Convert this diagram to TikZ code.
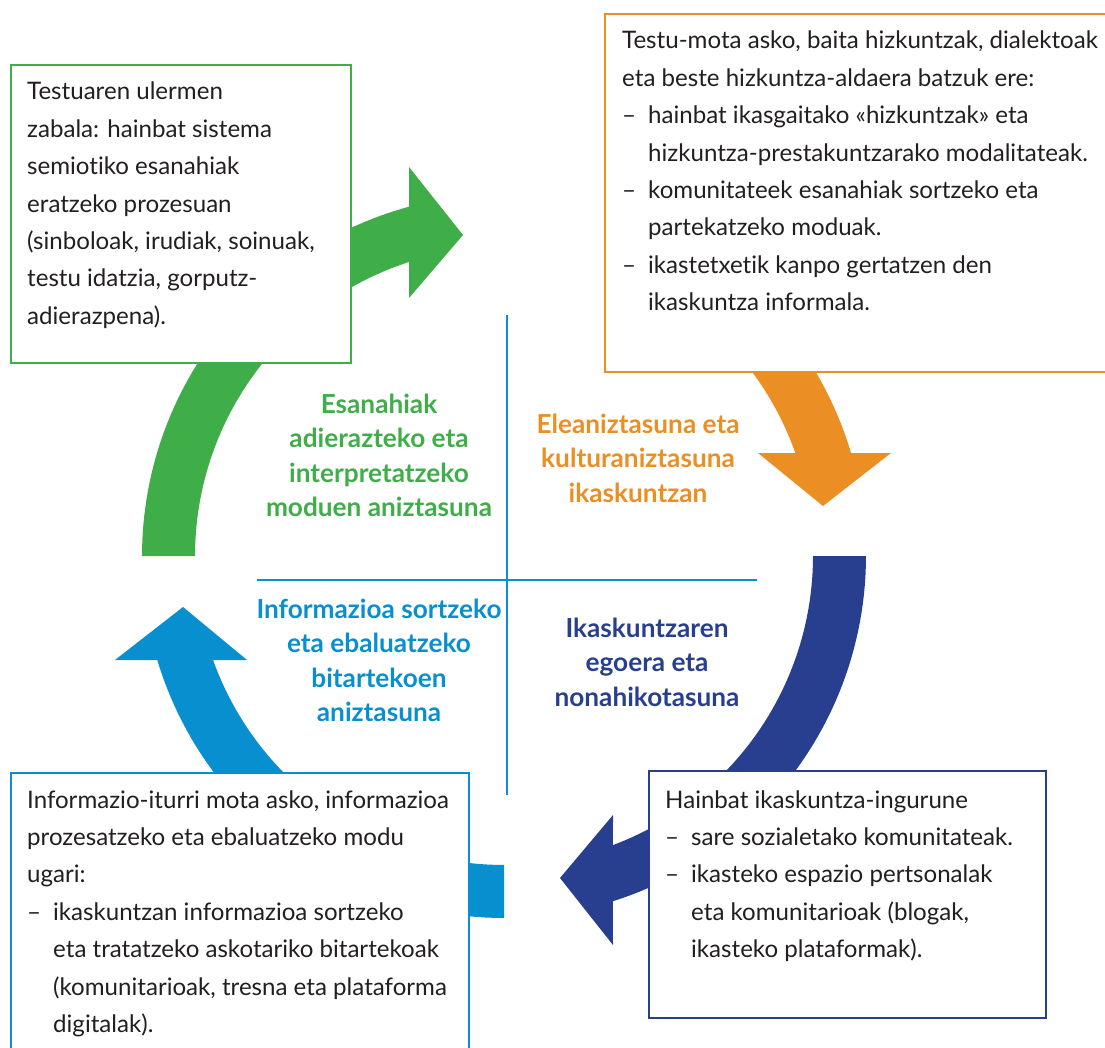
\documentclass[tikz,border=0pt]{standalone}
\usepackage{fontspec}
\setmainfont{Lato}[Ligatures=NoCommon]
\definecolor{gc}{HTML}{3FAE49}
\definecolor{oc}{HTML}{EB8E23}
\definecolor{nc}{HTML}{273F8E}
\definecolor{bc}{HTML}{088FCF}
\definecolor{tc}{HTML}{231F20}
\newcommand\Lft[2]{\vtop{\baselineskip=#1\lineskiplimit=-\maxdimen\halign{##\hfil\cr#2\crcr}}}
\newcommand\Ctr[2]{\vtop{\baselineskip=#1\lineskiplimit=-\maxdimen\halign{\hfil##\hfil\cr#2\crcr}}}
\newcommand\itm{\hbox to 26pt{–\hfil}}
\tikzset{
  boxst/.style={rectangle, fill=white, line width=2pt, inner sep=0pt, anchor=north west},
  boxtxt/.style={anchor=base west, inner sep=0pt, text=tc, font=\fontsize{24.1}{37.4}\selectfont},
  labtxt/.style={anchor=base, inner sep=0pt, font=\fontsize{26.2}{34.6}\selectfont\bfseries},
  crossline/.style={draw=bc, line width=2.5pt}
}
\begin{document}
\begin{tikzpicture}[x=1pt,y=-1pt]
\useasboundingbox (0,0) rectangle (1105,1048);
\fill[white] (0,0) rectangle (1105,1048);
% cross lines
\coordinate (vt) at (507,315);
\coordinate (vb) at (507,795);
\coordinate (hl) at (257,580);
\coordinate (hr) at (757,580);
\draw[crossline] (vt) -- (vb);
\draw[crossline] (hl) -- (hr);
% ring arrows (centre 504,556; radii 362 / 309)
\fill[gc] plot[domain=180:254.8, samples=50] ({504+362*cos(\x)},{556+362*sin(\x)})
  -- (409,167) -- (463,235) -- (409,298)
  -- plot[domain=252.1:180, samples=50] ({504+309*cos(\x)},{556+309*sin(\x)}) -- cycle;
\fill[oc] plot[domain=295:343.47, samples=50] ({504+362*cos(\x)},{556+362*sin(\x)})
  -- (891,453) -- (823,506) -- (758,453)
  -- plot[domain=340.53:295, samples=50] ({504+309*cos(\x)},{556+309*sin(\x)}) -- cycle;
\fill[nc] plot[domain=0:72.5, samples=50] ({504+362*cos(\x)},{556+362*sin(\x)})
  -- (613,945) -- (560,878) -- (613,815)
  -- plot[domain=69.35:0, samples=50] ({504+309*cos(\x)},{556+309*sin(\x)}) -- cycle;
\fill[bc] plot[domain=90:163.3, samples=50] ({504+362*cos(\x)},{556+362*sin(\x)})
  -- (115,660) -- (183,607) -- (247,660)
  -- plot[domain=160.33:90, samples=50] ({504+309*cos(\x)},{556+309*sin(\x)}) -- cycle;
% boxes
\node[boxst, draw=gc, minimum width=340pt, minimum height=298pt] (gbox) at (10,64) {};
\node[boxst, draw=oc, minimum width=510pt, minimum height=358pt] (obox) at (604,13) {};
\node[boxst, draw=bc, minimum width=458pt, minimum height=300pt] (bbox) at (10,772) {};
\node[boxst, draw=nc, minimum width=397pt, minimum height=247pt] (nbox) at (648,770) {};
% box texts
\node[boxtxt] (gtxt) at (27,100) {\Lft{37.4pt}{Testuaren ulermen\cr
zabala: hainbat sistema\cr
semiotiko esanahiak\cr
eratzeko prozesuan\cr
(sinboloak, irudiak, soinuak,\cr
testu idatzia, gorputz-\cr
adierazpena).}};
\node[boxtxt] (otxt) at (622,49) {\Lft{37.4pt}{Testu-mota asko, baita hizkuntzak, dialektoak\cr
eta beste hizkuntza-aldaera batzuk ere:\cr
\itm hainbat ikasgaitako «hizkuntzak» eta\cr
\hskip26pt hizkuntza-prestakuntzarako modalitateak.\cr
\itm komunitateek esanahiak sortzeko eta\cr
\hskip26pt partekatzeko moduak.\cr
\itm ikastetxetik kanpo gertatzen den\cr
\hskip26pt ikaskuntza informala.}};
\node[boxtxt] (btxt) at (27,808) {\Lft{37.4pt}{Informazio-iturri mota asko, informazioa\cr
prozesatzeko eta ebaluatzeko modu\cr
ugari:\cr
\itm ikaskuntzan informazioa sortzeko\cr
\hskip26pt eta tratatzeko askotariko bitartekoak\cr
\hskip26pt (komunitarioak, tresna eta plataforma\cr
\hskip26pt digitalak).}};
\node[boxtxt] (ntxt) at (665,808) {\Lft{37.4pt}{Hainbat ikaskuntza-ingurune\cr
\itm sare sozialetako komunitateak.\cr
\itm ikasteko espazio pertsonalak\cr
\hskip26pt eta komunitarioak (blogak,\cr
\hskip26pt ikasteko plataformak).}};
% centre labels
\node[labtxt, text=gc] (glab) at (379,413) {\Ctr{34.6pt}{Esanahiak\cr adierazteko eta\cr interpretatzeko\cr moduen aniztasuna}};
\node[labtxt, text=oc] (olab) at (638,433) {\Ctr{34.6pt}{Eleaniztasuna eta\cr kulturaniztasuna\cr ikaskuntzan}};
\node[labtxt, text=nc] (nlab) at (647,637) {\Ctr{34.6pt}{Ikaskuntzaren\cr egoera eta\cr nonahikotasuna}};
\node[labtxt, text=bc] (blab) at (379,618) {\Ctr{34.6pt}{Informazioa sortzeko\cr eta ebaluatzeko\cr bitartekoen\cr aniztasuna}};
\end{tikzpicture}
\end{document}
